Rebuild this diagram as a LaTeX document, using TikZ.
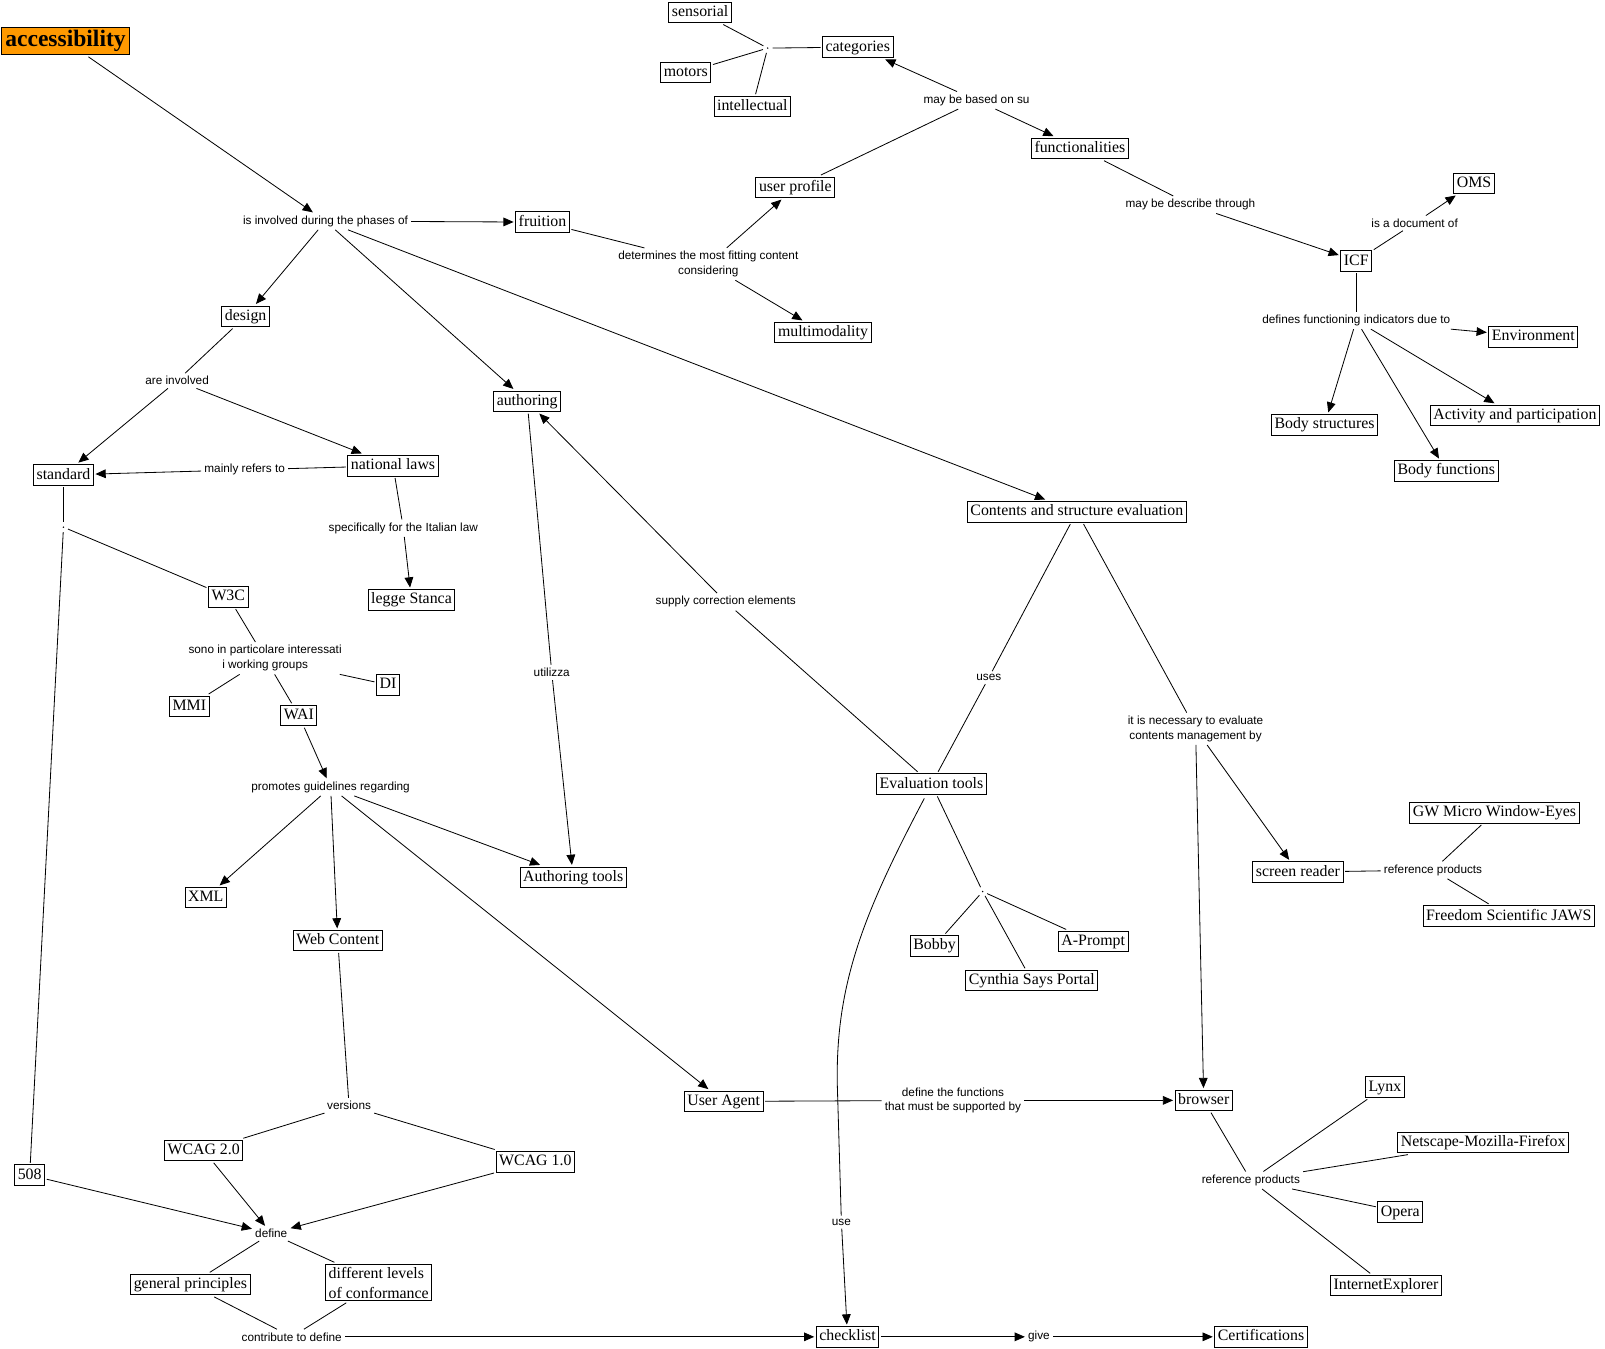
\documentclass[tikz,border=0pt]{standalone}
\usepackage{fontspec}
\setmainfont{Liberation Serif}
\setsansfont{Liberation Sans}
\usetikzlibrary{arrows.meta}
\definecolor{accorange}{RGB}{255,153,0}
\begin{document}
\begin{tikzpicture}[x=1pt,y=-1pt,
 concept/.style={draw, line width=0.9pt, font=\fontsize{15.5}{17}\selectfont, inner xsep=3pt, inner ysep=2.5pt, text height=11.5pt, text depth=3.5pt, outer sep=2pt},
 link/.style={font=\sffamily\fontsize{11.5}{14.5}\selectfont, inner sep=3pt, align=center},
 dotn/.style={circle, fill, inner sep=0pt, minimum size=1.6pt, outer sep=4pt},
 ln/.style={line width=0.8pt},
 arr/.style={ln, -{Triangle[length=10pt,width=8.5pt]}},
]
\useasboundingbox (0,0) rectangle (1568,1317);

% concepts
\node[concept, fill=accorange, font=\bfseries\fontsize{23}{26}\selectfont, text height=16pt, text depth=5pt, inner ysep=3pt, inner xsep=4pt] (acc) at (64,40) {accessibility};
\node[concept] (sens) at (684,12) {sensorial};
\node[concept] (cat) at (838,46) {categories};
\node[concept] (mot) at (670,71) {motors};
\node[concept] (intel) at (735,104) {intellectual};
\node[concept] (func) at (1055,145) {functionalities};
\node[concept] (uprof) at (777,183) {user profile};
\node[concept] (fru) at (530,217) {fruition};
\node[concept] (oms) at (1440,179) {OMS};
\node[concept] (icf) at (1325,255) {ICF};
\node[concept] (mm) at (804,325) {multimodality};
\node[concept] (des) at (240,309) {design};
\node[concept] (env) at (1498,329) {Environment};
\node[concept] (auth) at (515,392) {authoring};
\node[concept] (bstr) at (1294,415) {Body structures};
\node[concept] (act) at (1480,406) {Activity and participation};
\node[concept] (bfun) at (1413,460) {Body functions};
\node[concept] (std) at (62,464) {standard};
\node[concept] (nl) at (384,455) {national laws};
\node[concept] (cse) at (1052,500) {Contents and structure evaluation};
\node[concept] (w3c) at (223,583) {W3C};
\node[concept] (stanca) at (402,586) {legge Stanca};
\node[concept] (di) at (379,669) {DI};
\node[concept] (mmi) at (185,690) {MMI};
\node[concept] (wai) at (292,699) {WAI};
\node[concept] (evt) at (910,766) {Evaluation tools};
\node[concept] (gw) at (1460,794) {GW Micro Window-Eyes};
\node[concept] (sr) at (1268,852) {screen reader};
\node[concept] (atools) at (560,857) {Authoring tools};
\node[concept] (xml) at (201,877) {XML};
\node[concept] (wc) at (330,919) {Web Content};
\node[concept] (bobby) at (913,924) {Bobby};
\node[concept] (aprompt) at (1068,920) {A-Prompt};
\node[concept] (cyn) at (1008,958) {Cynthia Says Portal};
\node[concept] (jaws) at (1474,895) {Freedom Scientific JAWS};
\node[concept] (lynx) at (1353,1062) {Lynx};
\node[concept] (nmf) at (1449,1116) {Netscape-Mozilla-Firefox};
\node[concept] (ua) at (707,1076) {User Agent};
\node[concept] (brow) at (1176,1075) {browser};
\node[concept] (wcag2) at (199,1124) {WCAG 2.0};
\node[concept] (wcag1) at (523,1135) {WCAG 1.0};
\node[concept] (s508) at (29,1148) {508};
\node[concept] (opera) at (1368,1184) {Opera};
\node[concept] (gp) at (186,1255) {general principles};
\node[concept, align=left, text height=, text depth=, inner ysep=2.5pt, font=\fontsize{15.5}{19.5}\selectfont] (dl) at (370,1253) {different levels\\of conformance};
\node[concept] (ie) at (1354,1256) {InternetExplorer};
\node[concept] (chk) at (828,1306) {checklist};
\node[concept] (cert) at (1232,1306) {Certifications};

% linking phrases
\node[link] (l1) at (318,216) {is involved during the phases of};
\node[link] (l2) at (954,98) {may be based on su};
\node[link] (l3) at (692,258) {determines the most fitting content\\considering};
\node[link] (l4) at (1163,200) {may be describe through};
\node[link] (l5) at (1382,218) {is a document of};
\node[link] (l6) at (1325,313) {defines functioning indicators due to};
\node[link] (l7) at (173,372) {are involved};
\node[link] (l8) at (239,459) {mainly refers to};
\node[link] (l9) at (394,516) {specifically for the Italian law};
\node[link] (l10) at (709,588) {supply correction elements};
\node[link] (l11) at (539,657) {utilizza};
\node[link] (l12) at (966,662) {uses};
\node[link] (l13) at (259,643) {sono in particolare interessati\\i working groups};
\node[link] (l14) at (1168,712) {it is necessary to evaluate\\contents management by};
\node[link] (l15) at (323,769) {promotes guidelines regarding};
\node[link] (l16) at (1400,850) {reference products};
\node[link] (l17) at (341,1080) {versions};
\node[link] (l18) at (931,1075) {define the functions\\that must be supported by};
\node[link] (l19) at (1222,1153) {reference products};
\node[link] (l20) at (265,1205) {define};
\node[link] (l21) at (822,1194) {use};
\node[link] (l22) at (285,1306) {contribute to define};
\node[link] (l23) at (1015,1306) {give};
\node[dotn] (d1) at (750,47) {};
\node[dotn] (d2) at (62,515) {};
\node[dotn] (d3) at (960,871) {};

% connectors
\draw[arr] (acc) -- (l1);
\draw[arr] (l1) -- (fru);
\draw[arr] (l1) -- (des);
\draw[arr] (l1) -- (auth);
\draw[arr] (l1) -- (cse);
\draw[ln] (fru) -- (l3);
\draw[arr] (l3) -- (uprof);
\draw[arr] (l3) -- (mm);
\draw[ln] (uprof) -- (l2);
\draw[arr] (l2) -- (cat);
\draw[arr] (l2) -- (func);
\draw[ln] (cat) -- (d1);
\draw[ln] (d1) -- (sens);
\draw[ln] (d1) -- (mot);
\draw[ln] (d1) -- (intel);
\draw[ln] (func) -- (l4);
\draw[arr] (l4) -- (icf);
\draw[ln] (icf) -- (l5);
\draw[arr] (l5) -- (oms);
\draw[ln] (icf) -- (l6);
\draw[arr] (l6) -- (env);
\draw[arr] (l6) -- (bstr);
\draw[arr] (l6) -- (bfun);
\draw[arr] (l6) -- (act);
\draw[ln] (des) -- (l7);
\draw[arr] (l7) -- (std);
\draw[arr] (l7) -- (nl);
\draw[ln] (nl) -- (l8);
\draw[arr] (l8) -- (std);
\draw[ln] (nl) -- (l9);
\draw[arr] (l9) -- (stanca);
\draw[ln] (std) -- (d2);
\draw[ln] (d2) -- (w3c);
\draw[ln] (d2) -- (s508);
\draw[ln] (w3c) -- (l13);
\draw[ln] (l13) -- (mmi);
\draw[ln] (l13) -- (wai);
\draw[ln] (l13) -- (di);
\draw[arr] (wai) -- (l15);
\draw[arr] (l15) -- (xml);
\draw[arr] (l15) -- (wc);
\draw[arr] (l15) -- (atools);
\draw[arr] (l15) -- (ua);
\draw[ln] (auth) -- (l11);
\draw[arr] (l11) -- (atools);
\draw[ln] (evt) -- (l10);
\draw[arr] (l10) -- (auth);
\draw[ln] (cse) -- (l12);
\draw[ln] (l12) -- (evt);
\draw[ln] (cse) -- (l14);
\draw[arr] (l14) -- (sr);
\draw[arr] (l14) -- (brow);
\draw[ln] (sr) -- (l16);
\draw[ln] (l16) -- (gw);
\draw[ln] (l16) -- (jaws);
\draw[ln] (evt) -- (d3);
\draw[ln] (d3) -- (bobby);
\draw[ln] (d3) -- (aprompt);
\draw[ln] (d3) -- (cyn);
\draw[ln] ([xshift=-7pt,yshift=-2pt]evt.south) .. controls (845,890) and (816,960) .. (818,1060) -- (l21);
\draw[arr] (l21) -- (chk);
\draw[ln] (wc) -- (l17);
\draw[ln] (l17) -- (wcag2);
\draw[ln] (l17) -- (wcag1);
\draw[arr] (wcag2) -- (l20);
\draw[arr] (s508) -- (l20);
\draw[arr] (wcag1) -- (l20);
\draw[ln] (l20) -- (gp);
\draw[ln] (l20) -- (dl);
\draw[ln] (gp) -- (l22);
\draw[ln] (dl) -- (l22);
\draw[arr] (l22) -- (chk);
\draw[arr] (chk) -- (l23);
\draw[arr] (l23) -- (cert);
\draw[ln] (ua) -- (l18);
\draw[arr] (l18) -- (brow);
\draw[ln] (brow) -- (l19);
\draw[ln] (l19) -- (lynx);
\draw[ln] (l19) -- (nmf);
\draw[ln] (l19) -- (opera);
\draw[ln] (l19) -- (ie);
\end{tikzpicture}
\end{document}
